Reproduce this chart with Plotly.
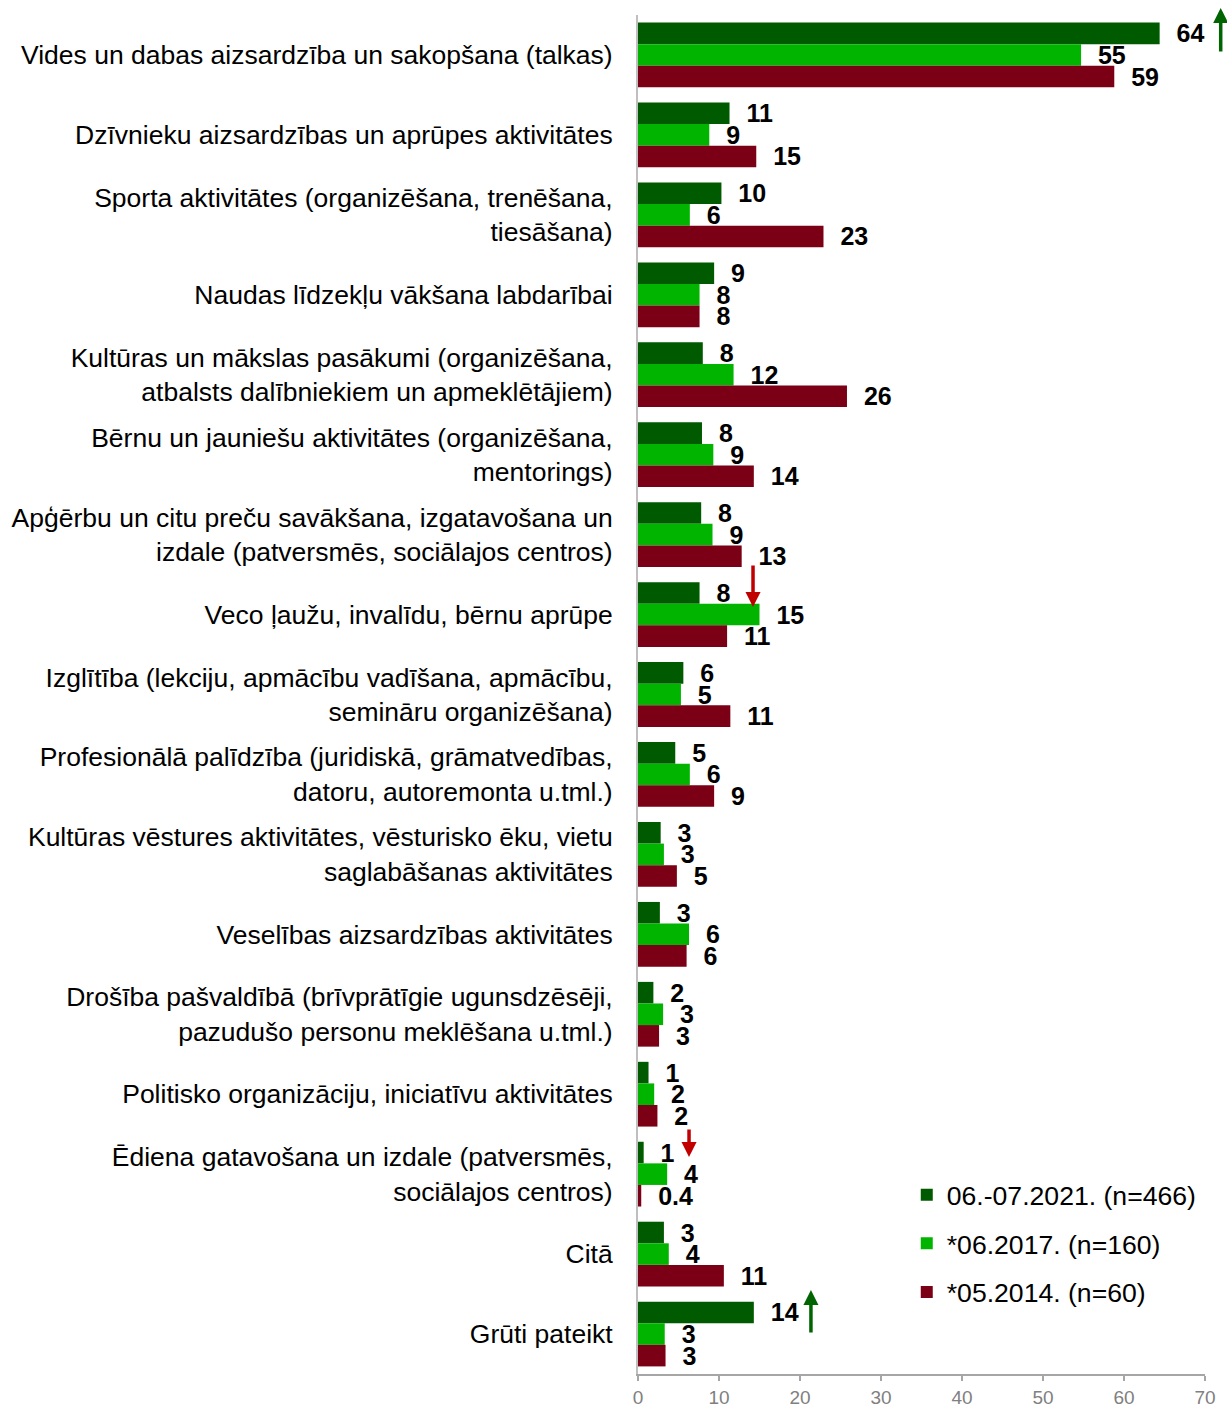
import plotly.graph_objects as go

categories = [
    "Vides un dabas aizsardzība un sakopšana (talkas)",
    "Dzīvnieku aizsardzības un aprūpes aktivitātes",
    "Sporta aktivitātes (organizēšana, trenēšana,<br>tiesāšana)",
    "Naudas līdzekļu vākšana labdarībai",
    "Kultūras un mākslas pasākumi (organizēšana,<br>atbalsts dalībniekiem un apmeklētājiem)",
    "Bērnu un jauniešu aktivitātes (organizēšana,<br>mentorings)",
    "Apģērbu un citu preču savākšana, izgatavošana un<br>izdale (patversmēs, sociālajos centros)",
    "Veco ļaužu, invalīdu, bērnu aprūpe",
    "Izglītība (lekciju, apmācību vadīšana, apmācību,<br>semināru organizēšana)",
    "Profesionālā palīdzība (juridiskā, grāmatvedības,<br>datoru, autoremonta u.tml.)",
    "Kultūras vēstures aktivitātes, vēsturisko ēku, vietu<br>saglabāšanas aktivitātes",
    "Veselības aizsardzības aktivitātes",
    "Drošība pašvaldībā (brīvprātīgie ugunsdzēsēji,<br>pazudušo personu meklēšana u.tml.)",
    "Politisko organizāciju, iniciatīvu aktivitātes",
    "Ēdiena gatavošana un izdale (patversmēs,<br>sociālajos centros)",
    "Citā",
    "Grūti pateikt",
]

series_names = ["06.-07.2021. (n=466)", "*06.2017. (n=160)", "*05.2014. (n=60)"]
v2021 = [64.4, 11.3, 10.3, 9.4, 8.0, 7.9, 7.8, 7.6, 5.6, 4.6, 2.8, 2.7, 1.9, 1.3, 0.7, 3.2, 14.3]
v2017 = [54.7, 8.8, 6.4, 7.6, 11.8, 9.3, 9.2, 15.0, 5.3, 6.4, 3.2, 6.3, 3.1, 2.0, 3.6, 3.8, 3.3]
v2014 = [58.8, 14.6, 22.9, 7.6, 25.8, 14.3, 12.8, 11.0, 11.4, 9.4, 4.8, 6.0, 2.6, 2.4, 0.4, 10.6, 3.4]
colors = ["#005A00", "#00B400", "#7B0016"]
x_ticks = [0, 10, 20, 30, 40, 50, 60, 70]

FONT = "Arial, Liberation Sans, sans-serif"


def lab(v):
    s = f"{v:.1f}" if v < 0.5 else str(int(v + 0.5))
    return "\u00a0\u00a0" + s


fig = go.Figure()
for name, vals, col in zip(series_names, [v2021, v2017, v2014], colors):
    fig.add_trace(go.Bar(
        y=categories, x=vals, orientation="h", name=name,
        marker=dict(color=col, line=dict(width=0)),
        text=[lab(v) for v in vals], textposition="outside",
        textfont=dict(size=25, family=FONT, color="black", weight="bold"),
        constraintext="none", cliponaxis=False, legendgroup=name,
    ))

arrow_green = "#006400"
arrow_red = "#C00000"
arrows = [
    dict(xref="paper", x=1.0277, y=1.0052, ay=45, arrowcolor=arrow_green),
    dict(xref="x", x=14.2, y=0.5644, ay=-43, arrowcolor=arrow_red),
    dict(xref="x", x=6.3, y=0.1597, ay=-29, arrowcolor=arrow_red),
    dict(xref="x", x=21.35, y=0.0618, ay=44, arrowcolor=arrow_green),
]
for a in arrows:
    fig.add_annotation(
        text="", showarrow=True, yref="paper", ax=0, axref="pixel", ayref="pixel",
        arrowhead=2, arrowwidth=3.5, arrowsize=0.86, standoff=0, startstandoff=0,
        **a,
    )

fig.update_layout(
    width=1227, height=1409,
    margin=dict(l=638, r=22, t=15, b=35),
    paper_bgcolor="white", plot_bgcolor="white",
    barmode="group", bargap=0.19, bargroupgap=0,
    font=dict(family=FONT, color="black"),
    showlegend=True,
    legend=dict(
        x=0.474, xanchor="left", y=0.1494, yanchor="top",
        font=dict(size=26.6, family=FONT, color="black"),
        bgcolor="rgba(0,0,0,0)", tracegroupgap=11, itemwidth=30,
    ),
    xaxis=dict(
        range=[0, 70], tickvals=x_ticks, showgrid=False, zeroline=False,
        showline=True, linecolor="#A6A6A6", linewidth=1.5,
        ticks="outside", ticklen=5, tickcolor="#A6A6A6", tickwidth=1.5,
        tickfont=dict(size=19, family=FONT, color="#808080"),
        automargin=False,
    ),
    yaxis=dict(
        autorange="reversed", showgrid=False, zeroline=False,
        showline=True, linecolor="#BFBFBF", linewidth=2,
        ticks="", ticklabelstandoff=18,
        tickfont=dict(size=26.5, family=FONT, color="black"),
        automargin=False,
    ),
)

fig.write_html("out.html", config={"displayModeBar": False},
               post_script="document.body.style.margin='0px';")
